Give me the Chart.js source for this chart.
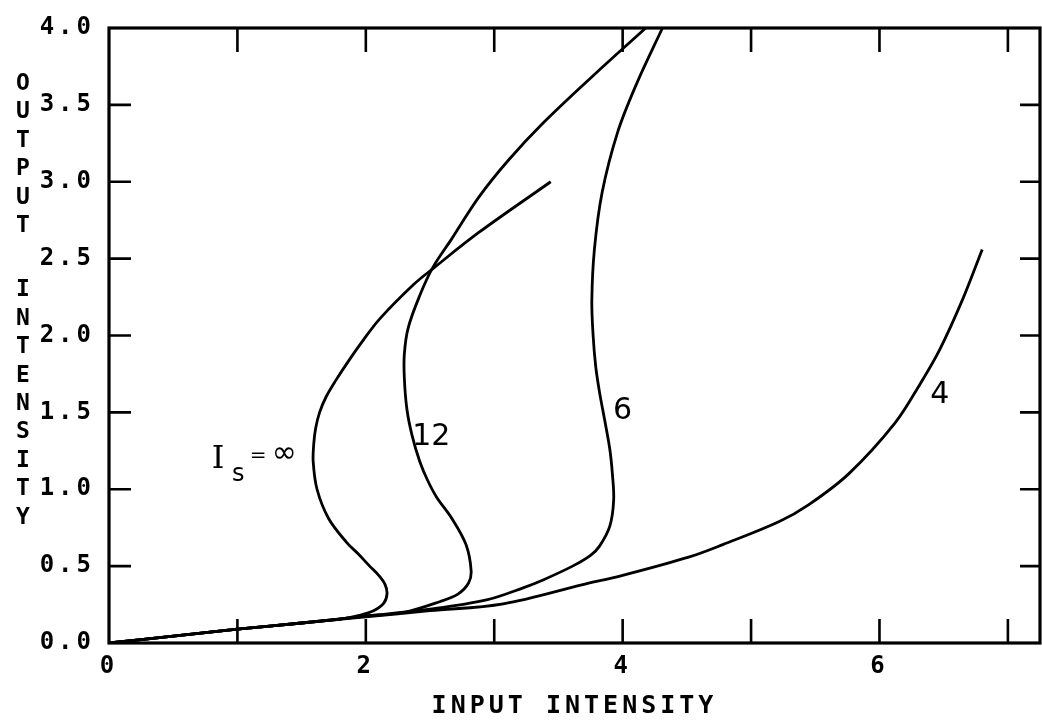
<!DOCTYPE html>
<html>
<head>
<meta charset="utf-8">
<title>Output vs input intensity</title>
<script src="https://cdn.jsdelivr.net/npm/chart.js@4.4.0/dist/chart.umd.min.js"></script>
<style>
    html, body { margin: 0; padding: 0; background: #ffffff; }
    #wrap { width: 1042px; height: 724px; }
</style>
</head>
<body>
<div id="wrap"><canvas id="intensityChart"></canvas></div>
<script>
// Transmission curves, one per saturation intensity Is (input, output pairs along the curve).
const curveNames = ['\u221e', '12', '6', '4'];

const inputInf = [0, 0.5, 1.0, 1.5, 1.8, 1.95, 2.06, 2.14, 2.165, 2.15, 2.10, 2.03, 1.94, 1.85, 1.71, 1.62, 1.59, 1.595, 1.61, 1.64, 1.69, 1.76, 1.87, 1.98, 2.11, 2.37, 2.53, 2.88, 3.44];
const outputInf = [0, 0.045, 0.09, 0.13, 0.155, 0.18, 0.21, 0.26, 0.32, 0.38, 0.44, 0.50, 0.58, 0.655, 0.81, 1.0, 1.18, 1.30, 1.40, 1.50, 1.60, 1.70, 1.84, 1.97, 2.11, 2.33, 2.44, 2.67, 3.0];

const input12 = [0, 0.5, 1.0, 1.5, 2.0, 2.3, 2.58, 2.72, 2.80, 2.82, 2.78, 2.67, 2.55, 2.48, 2.42, 2.36, 2.32, 2.30, 2.30, 2.33, 2.42, 2.52, 2.67, 2.88, 3.11, 3.39, 3.77, 4.18];
const output12 = [0, 0.045, 0.09, 0.13, 0.175, 0.20, 0.27, 0.32, 0.39, 0.47, 0.64, 0.81, 0.95, 1.06, 1.18, 1.35, 1.52, 1.72, 1.88, 2.05, 2.26, 2.44, 2.63, 2.90, 3.14, 3.39, 3.69, 4.0];

const input6 = [0, 0.5, 1.0, 1.5, 2.0, 2.5, 2.94, 3.23, 3.38, 3.61, 3.75, 3.82, 3.90, 3.93, 3.92, 3.90, 3.86, 3.82, 3.79, 3.77, 3.76, 3.78, 3.84, 3.96, 4.11, 4.31];
const output6 = [0, 0.045, 0.09, 0.13, 0.175, 0.22, 0.28, 0.36, 0.41, 0.50, 0.57, 0.63, 0.76, 0.93, 1.10, 1.26, 1.45, 1.63, 1.80, 2.0, 2.23, 2.56, 2.93, 3.32, 3.64, 4.0];

const input4 = [0, 0.5, 1.0, 1.5, 2.0, 2.5, 3.07, 3.69, 4.0, 4.52, 4.78, 5.22, 5.45, 5.76, 6.12, 6.32, 6.47, 6.65, 6.80];
const output4 = [0, 0.045, 0.09, 0.13, 0.17, 0.21, 0.255, 0.38, 0.44, 0.56, 0.64, 0.79, 0.90, 1.10, 1.43, 1.69, 1.91, 2.24, 2.56];

const xTitle = 'INPUT INTENSITY';
const yTitle = 'OUTPUT INTENSITY';

const plotterFont = "'DejaVu Sans Mono', 'Liberation Mono', monospace";
const handFont = "'DejaVu Sans', sans-serif";

/**
 * Zips two value arrays into scatter points.
 */
function toPoints(xs, ys) {
    return xs.map((v, i) => ({ x: v, y: ys[i] }));
}

function curve(label, xs, ys) {
    return {
        label: label,
        data: toPoints(xs, ys),
        showLine: true,
        borderColor: '#000000',
        borderWidth: 2.8,
        pointRadius: 0,
        tension: 0.35,
        fill: false
    };
}

// Wide letter spacing like an old pen plotter.
const plotterSpacing = {
    id: 'plotterSpacing',
    beforeLayout(chart) { chart.ctx.letterSpacing = '4px'; },
    beforeDraw(chart) { chart.ctx.letterSpacing = '4px'; }
};

// Box frame, inward tick marks, stacked y title and the curve annotations.
const framePlugin = {
    id: 'frame',
    afterDatasetsDraw(chart) {
        const ctx = chart.ctx;
        const a = chart.chartArea;
        const xs = chart.scales.x;
        const ys = chart.scales.y;

        ctx.save();
        ctx.strokeStyle = '#000000';
        ctx.lineWidth = 2.6;
        ctx.beginPath();
        xs.ticks.forEach(t => {
            if (!Number.isInteger(t.value) || t.value === 0) return;
            const px = xs.getPixelForValue(t.value);
            ctx.moveTo(px, a.bottom);
            ctx.lineTo(px, a.bottom - 24);
            ctx.moveTo(px, a.top);
            ctx.lineTo(px, a.top + 24);
        });
        ys.ticks.forEach(t => {
            if (t.value <= 0 || t.value >= 4) return;
            const py = ys.getPixelForValue(t.value);
            ctx.moveTo(a.left, py);
            ctx.lineTo(a.left + 22, py);
            ctx.moveTo(a.right, py);
            ctx.lineTo(a.right - 20, py);
        });
        ctx.stroke();

        ctx.lineWidth = 3.2;
        ctx.strokeRect(a.left, a.top, a.right - a.left, a.bottom - a.top);

        // y title, one upright letter under the other
        ctx.fillStyle = '#000000';
        ctx.letterSpacing = '0px';
        ctx.font = 'bold 23px ' + plotterFont;
        ctx.textAlign = 'center';
        ctx.textBaseline = 'middle';
        let ty = a.top + 56;
        for (const ch of yTitle) {
            if (ch === ' ') {
                ty += 36;
                continue;
            }
            ctx.fillText(ch, 23, ty);
            ty += 28.4;
        }

        // hand lettered curve labels
        ctx.font = '30px ' + handFont;
        ctx.fillText(curveNames[1], xs.getPixelForValue(2.51), ys.getPixelForValue(1.34));
        ctx.fillText(curveNames[2], xs.getPixelForValue(4.0), ys.getPixelForValue(1.51));
        ctx.fillText(curveNames[3], xs.getPixelForValue(6.47), ys.getPixelForValue(1.61));

        const ix = xs.getPixelForValue(0.85);
        const iy = ys.getPixelForValue(1.19);
        ctx.font = '32px ' + "'DejaVu Serif', serif";
        ctx.fillText('I', ix, iy);
        ctx.font = '24px ' + handFont;
        ctx.fillText('s', ix + 20, iy + 15);
        ctx.font = '20px ' + handFont;
        ctx.fillText('=', ix + 40, iy - 4);
        ctx.font = '30px ' + handFont;
        ctx.fillText(curveNames[0], ix + 66, iy - 6);
        ctx.restore();
    }
};

/**
 * Draws the chart.
 *
 * @param {string} canvasId The id of the canvas.
 */
function drawChart(canvasId) {
    let canvas = document.getElementById(canvasId);
    if (!canvas)
        return;

    new Chart(canvas, {
        type: 'scatter',
        data: {
            datasets: [
                curve('Is = ' + curveNames[0], inputInf, outputInf),
                curve('Is = ' + curveNames[1], input12, output12),
                curve('Is = ' + curveNames[2], input6, output6),
                curve('Is = ' + curveNames[3], input4, output4)
            ]
        },
        options: {
            responsive: true,
            maintainAspectRatio: false,
            animation: false,
            layout: {
                padding: { top: 28, right: 2, bottom: 0, left: 0 }
            },
            plugins: {
                legend: { display: false },
                tooltip: { enabled: false }
            },
            scales: {
                x: {
                    type: 'linear',
                    min: 0,
                    max: 7.25,
                    afterFit: s => { s.height = 81; },
                    grid: { display: false },
                    border: { display: false },
                    ticks: {
                        stepSize: 1,
                        includeBounds: false,
                        autoSkip: false,
                        maxRotation: 0,
                        padding: 1,
                        color: '#000000',
                        font: { family: plotterFont, size: 24, weight: 'bold' },
                        callback: v => (v % 2 === 0 ? String(v) : '')
                    },
                    title: {
                        display: true,
                        text: xTitle,
                        color: '#000000',
                        font: { family: plotterFont, size: 25, weight: 'bold' },
                        padding: { top: 0, bottom: 3 }
                    }
                },
                y: {
                    type: 'linear',
                    min: 0,
                    max: 4,
                    afterFit: s => { s.width = 109; },
                    grid: { display: false },
                    border: { display: false },
                    ticks: {
                        stepSize: 0.5,
                        padding: 6,
                        color: '#000000',
                        font: { family: plotterFont, size: 24, weight: 'bold' },
                        callback: v => v.toFixed(1)
                    }
                }
            }
        },
        plugins: [plotterSpacing, framePlugin]
    });
}

drawChart('intensityChart');
</script>
</body>
</html>
